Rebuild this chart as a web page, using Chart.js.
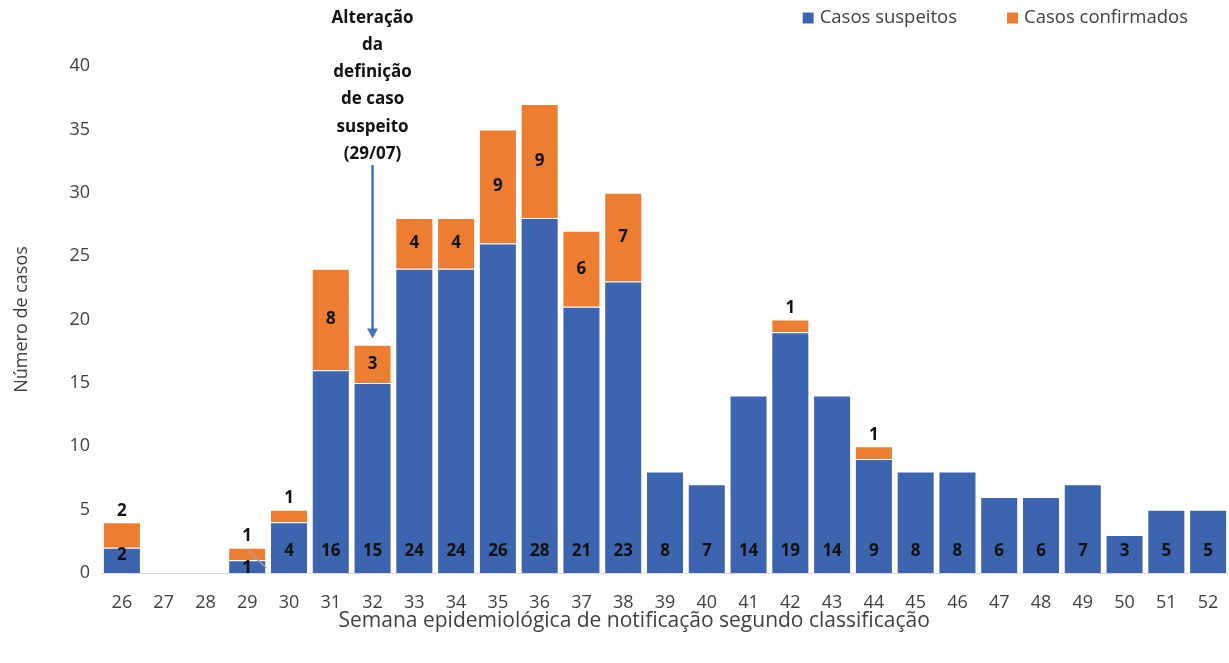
<!DOCTYPE html>
<html lang="pt">
<head>
<meta charset="utf-8">
<title>Casos por semana epidemiológica</title>
<script src="https://cdn.jsdelivr.net/npm/chart.js@4.4.1/dist/chart.umd.min.js"></script>
<style>
  html, body { margin: 0; padding: 0; background: #ffffff; }
  #wrap { position: relative; width: 1229px; height: 663px; }
</style>
</head>
<body>
<div id="wrap"><canvas id="chart" width="1229" height="663"></canvas></div>
<script>
// Semanas epidemiológicas de notificação
const weeks = ['26','27','28','29','30','31','32','33','34','35','36','37','38','39',
               '40','41','42','43','44','45','46','47','48','49','50','51','52'];

// Casos por classificação
const suspeitos   = [2,0,0,1,4,16,15,24,24,26,28,21,23,8,7,14,19,14,9,8,8,6,6,7,3,5,5];
const confirmados = [2,0,0,1,1,8,3,4,4,9,9,6,7,0,0,0,1,0,1,0,0,0,0,0,0,0,0];

const seriesNames = ['Casos suspeitos', 'Casos confirmados'];
const seriesColors = ['#3d64ae', '#ed7d31'];

// Eixo Y
const yMin = 0, yMax = 40, yStep = 5;

// Nota sobre a mudança de definição
const noteWeek = '32';
const noteLines = ['Alteração', 'da', 'definição', 'de caso', 'suspeito', '(29/07)'];

const axisTitleX = 'Semana epidemiológica de notificação segundo classificação';
const axisTitleY = 'Número de casos';

const FONT = '"Open Sans", "DejaVu Sans", sans-serif';
const TEXT = '#404040';
const LABEL = '#111111';

// Rótulos de valor em cada segmento
const valueLabels = {
  id: 'valueLabels',
  afterDatasetsDraw(chart) {
    const ctx = chart.ctx;
    ctx.save();
    ctx.font = 'bold 17px ' + FONT;
    ctx.fillStyle = LABEL;
    ctx.textAlign = 'center';
    ctx.textBaseline = 'middle';
    const metaS = chart.getDatasetMeta(0);
    const metaC = chart.getDatasetMeta(1);
    metaS.data.forEach((bar, i) => {
      const v = suspeitos[i];
      if (!v) return;
      const y = Math.max(bar.base - 22, bar.y + 8);
      ctx.fillText(String(v), bar.x, y);
      if (v < 2 && confirmados[i] > 0) {
        // linha de chamada para rótulo deslocado
        ctx.save();
        ctx.strokeStyle = '#a6a6a6';
        ctx.lineWidth = 1.2;
        ctx.beginPath();
        ctx.moveTo(bar.x, bar.y - 11);
        ctx.lineTo(bar.x + bar.width / 2, bar.base - 5);
        ctx.stroke();
        ctx.restore();
      }
    });
    metaC.data.forEach((bar, i) => {
      const v = confirmados[i];
      if (!v) return;
      const h = bar.base - bar.y;
      const y = v >= 3 ? bar.y + h / 2 : bar.y - 11;
      ctx.fillText(String(v), bar.x, y);
    });
    ctx.restore();
  }
};

// Seta e texto da nota
const noteArrow = {
  id: 'noteArrow',
  afterDraw(chart) {
    const ctx = chart.ctx;
    const xs = chart.scales.x, ys = chart.scales.y;
    const idx = weeks.indexOf(noteWeek);
    const x = xs.getPixelForValue(idx);
    const total = suspeitos[idx] + confirmados[idx];
    const tipY = ys.getPixelForValue(total + 0.5);
    ctx.save();
    ctx.font = 'bold 17px ' + FONT;
    ctx.fillStyle = LABEL;
    ctx.textAlign = 'center';
    ctx.textBaseline = 'middle';
    const lh = 27.2;
    const top = 18;
    noteLines.forEach((t, k) => ctx.fillText(t, x, top + k * lh));
    const startY = top + (noteLines.length - 1) * lh + 11;
    ctx.strokeStyle = '#4472c4';
    ctx.fillStyle = '#4472c4';
    ctx.lineWidth = 2.5;
    ctx.beginPath();
    ctx.moveTo(x, startY);
    ctx.lineTo(x, tipY - 9);
    ctx.stroke();
    ctx.beginPath();
    ctx.moveTo(x - 5.5, tipY - 10);
    ctx.lineTo(x + 5.5, tipY - 10);
    ctx.lineTo(x, tipY);
    ctx.closePath();
    ctx.fill();
    ctx.restore();
  }
};

// Legenda e título do eixo X
const legendAndTitle = {
  id: 'legendAndTitle',
  afterDraw(chart) {
    const ctx = chart.ctx;
    ctx.save();
    ctx.font = '18.5px ' + FONT;
    ctx.textBaseline = 'middle';
    ctx.textAlign = 'left';
    const cy = 18;
    const box = 11, gap = 6, between = 50;
    let right = chart.width - 41;
    const items = chart.data.datasets.map(d => ({ label: d.label, color: d.backgroundColor }));
    for (let k = items.length - 1; k >= 0; k--) {
      const it = items[k];
      const w = ctx.measureText(it.label).width;
      const tx = right - w;
      const bx = tx - gap - box;
      ctx.fillStyle = it.color;
      ctx.fillRect(bx, cy - box / 2, box, box);
      ctx.fillStyle = TEXT;
      ctx.fillText(it.label, tx, cy);
      right = bx - between;
    }
    ctx.font = '21px ' + FONT;
    ctx.textAlign = 'center';
    ctx.fillStyle = TEXT;
    ctx.fillText(axisTitleX, chart.width * 0.516, 621);
    ctx.restore();
  }
};

new Chart(document.getElementById('chart'), {
  type: 'bar',
  data: {
    labels: weeks,
    datasets: [
      { label: seriesNames[0], data: suspeitos, backgroundColor: seriesColors[0],
        borderColor: '#ffffff', borderWidth: 1, borderSkipped: 'bottom',
        barPercentage: 0.91, categoryPercentage: 1.0 },
      { label: seriesNames[1], data: confirmados, backgroundColor: seriesColors[1],
        borderColor: '#ffffff', borderWidth: 1, borderSkipped: 'bottom',
        barPercentage: 0.91, categoryPercentage: 1.0 }
    ]
  },
  options: {
    responsive: false,
    animation: false,
    layout: { autoPadding: false, padding: { top: 66, right: 0, bottom: 0, left: 0 } },
    plugins: {
      legend: { display: false },
      tooltip: { enabled: false }
    },
    scales: {
      x: {
        stacked: true,
        grid: { display: false, drawTicks: false },
        border: { display: true, color: '#d9d9d9', width: 1 },
        ticks: { color: TEXT, font: { family: FONT, size: 18 }, padding: 19, maxRotation: 0 },
        afterFit(scale) {
          scale.height = 90;
          scale.paddingLeft = 0;
          scale.paddingRight = 0;
        }
      },
      y: {
        stacked: true,
        min: yMin, max: yMax,
        grid: { display: false, drawTicks: false },
        border: { display: false },
        ticks: { stepSize: yStep, color: TEXT, font: { family: FONT, size: 18 }, padding: 11 },
        title: { display: true, text: axisTitleY, color: TEXT,
                 font: { family: FONT, size: 18 }, padding: { top: 11, bottom: 0 } },
        afterFit(scale) { scale.width = 101; }
      }
    }
  },
  plugins: [valueLabels, noteArrow, legendAndTitle]
});
</script>
</body>
</html>
